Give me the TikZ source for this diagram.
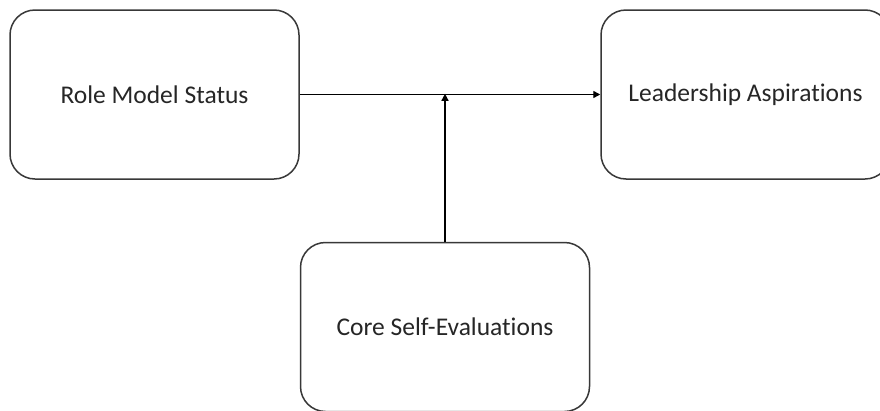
\documentclass[tikz,border=0pt]{standalone}
\usepackage{fontspec}
\setmainfont{Carlito}[Ligatures={NoCommon}]
\usetikzlibrary{arrows.meta}
\begin{document}
\begin{tikzpicture}[x=1pt,y=-1pt,
  box/.style={draw=black!78, line width=1.5pt, rounded corners=25pt, fill=white,
    minimum width=289pt, minimum height=169pt, inner sep=0pt,
    font=\fontsize{25.5}{30}\selectfont, text=black!85},
  conn/.style={draw=black, line width=1.4pt, -{Triangle[length=7pt,width=7pt]}}]
\useasboundingbox (0,0) rectangle (880,410);
\fill[white] (0,0) rectangle (880,410);
\begin{scope}
\clip (0,0) rectangle (880,410);
\node[box] (rms) at (154.5,94.5) {Role Model Status};
\node[box] (la) at (745.5,94.5) {Leadership Aspirations};
\node[box] (cse) at (445,327) {Core Self-Evaluations};
\coordinate (j) at (cse.north |- rms.east);
\draw[conn] (rms.east) -- (la.west);
\draw[conn, shorten >=-0.7pt] (cse.north) -- (j);
\end{scope}
\end{tikzpicture}
\end{document}
